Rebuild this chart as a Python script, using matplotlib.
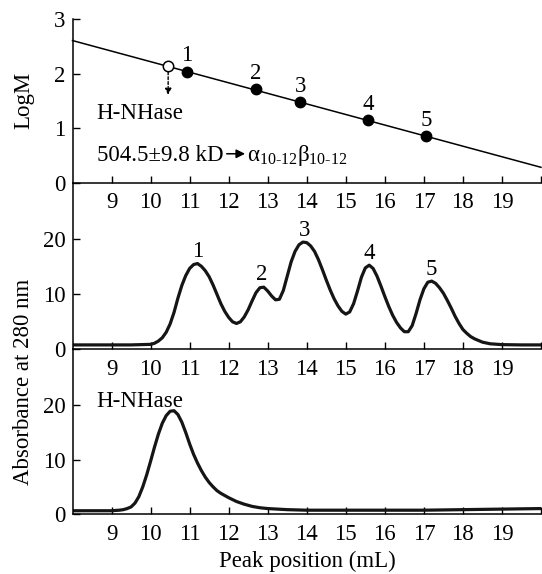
import numpy as np
import matplotlib
matplotlib.use("Agg")
import matplotlib.pyplot as plt

plt.rcParams['font.family'] = ['Liberation Serif', 'DejaVu Serif']
plt.rcParams['mathtext.fontset'] = 'custom'
plt.rcParams['mathtext.rm'] = 'Liberation Serif'
plt.rcParams['mathtext.it'] = 'Liberation Serif:italic'
plt.rcParams['mathtext.bf'] = 'Liberation Serif:bold'

# calibration standards (elution volume, log of molecular mass)
std_volume = [10.93, 12.70, 13.83, 15.58, 17.05]
std_logm = [2.03, 1.71, 1.47, 1.14, 0.85]
std_names = ['1', '2', '3', '4', '5']
sample_volume = 10.45
sample_logm = 2.13

# standards chromatogram
std_x = [8.0, 8.5, 9.0, 9.5, 10.0, 10.1, 10.2, 10.3, 10.4, 10.5, 10.6, 10.7, 10.8, 10.9,
         11.0, 11.1, 11.2, 11.3, 11.4, 11.5, 11.6, 11.7, 11.8, 11.9,
         12.0, 12.1, 12.2, 12.3, 12.4, 12.5, 12.6, 12.7, 12.8, 12.9,
         13.0, 13.1, 13.2, 13.3, 13.4, 13.5, 13.6, 13.7, 13.8, 13.9,
         14.0, 14.1, 14.2, 14.3, 14.4, 14.5, 14.6, 14.7, 14.8, 14.9,
         15.0, 15.1, 15.2, 15.3, 15.4, 15.5, 15.6, 15.7, 15.8, 15.9,
         16.0, 16.1, 16.2, 16.3, 16.4, 16.5, 16.6, 16.7, 16.8, 16.9,
         17.0, 17.1, 17.2, 17.3, 17.4, 17.5, 17.6, 17.7, 17.8, 17.9,
         18.0, 18.1, 18.2, 18.3, 18.4, 18.5, 18.7, 19.0, 19.5, 20.0]
std_abs = [0.8, 0.8, 0.8, 0.8, 0.9, 1.1, 1.5, 2.1, 3.1, 4.6, 6.7, 9.3, 11.6, 13.4,
           14.7, 15.4, 15.6, 15.1, 14.3, 13.2, 11.7, 10.0, 8.3, 6.9,
           5.8, 5.0, 4.7, 5.0, 5.9, 7.2, 8.8, 10.3, 11.2, 11.3,
           10.6, 9.7, 9.0, 9.1, 10.7, 13.3, 15.9, 17.8, 19.0, 19.5,
           19.4, 18.8, 17.8, 16.3, 14.5, 12.6, 10.8, 9.2, 7.9, 6.9,
           6.4, 6.8, 8.3, 10.6, 13.1, 14.8, 15.3, 14.7, 13.3, 11.5,
           9.6, 7.8, 6.2, 4.9, 3.9, 3.2, 3.2, 4.3, 6.5, 9.0,
           11.0, 12.2, 12.4, 12.0, 11.2, 10.2, 8.9, 7.5, 6.0, 4.7,
           3.6, 2.9, 2.3, 1.9, 1.6, 1.3, 1.0, 0.85, 0.8, 0.8]
peak_x = [11.2, 12.85, 13.95, 15.6, 17.2]
peak_y = [15.6, 11.4, 19.5, 15.3, 12.4]

# H-NHase chromatogram
hn_x = [8.0, 8.5, 9.0, 9.2, 9.3, 9.4, 9.5, 9.6, 9.7, 9.8, 9.9,
        10.0, 10.1, 10.2, 10.3, 10.4, 10.5, 10.6, 10.7, 10.8, 10.9,
        11.0, 11.1, 11.2, 11.3, 11.4, 11.5, 11.6, 11.7, 11.8, 11.9,
        12.0, 12.2, 12.4, 12.6, 12.8, 13.0, 13.5, 14.0, 15.0, 16.0, 17.0,
        18.0, 19.0, 20.0]
hn_abs = [0.6, 0.6, 0.6, 0.7, 0.8, 1.0, 1.3, 2.0, 3.2, 5.0, 7.2,
          9.7, 12.3, 14.7, 16.7, 18.1, 18.9, 19.0, 18.3, 16.9, 15.0,
          12.9, 11.0, 9.4, 8.0, 6.8, 5.8, 5.0, 4.3, 3.8, 3.4,
          3.0, 2.3, 1.8, 1.4, 1.15, 1.0, 0.8, 0.7, 0.7, 0.7, 0.7,
          0.8, 0.9, 1.0]

xticks = list(range(9, 21))
xticklabels = [str(t) for t in range(9, 20)] + ['']

W, H = 542, 574
fig = plt.figure(figsize=(W / 100, H / 100), dpi=100)

def panel(top, bottom):
    ax = fig.add_axes([72.5 / W, 1 - bottom / H, (541 - 72.5) / W, (bottom - top) / H])
    for s in ('top', 'right'):
        ax.spines[s].set_visible(False)
    for s in ('left', 'bottom'):
        ax.spines[s].set_linewidth(1.1)
    ax.set_xlim(8, 20)
    ax.set_xticks(xticks)
    ax.set_xticklabels(xticklabels)
    ax.tick_params(direction='in', length=5, width=1.0, labelsize=16.5, pad=5)
    ax.tick_params(axis='x', pad=7)
    ax.patch.set_alpha(0)
    return ax

# calibration curve
ax1 = panel(19, 182.7)
ax1.set_ylim(0, 3)
ax1.set_yticks([0, 1, 2, 3])
slope, icpt = np.polyfit(std_volume, std_logm, 1)
xl = np.array([8, 20])
ax1.plot(xl, icpt + slope * xl, color='black', lw=1.1, clip_on=False)
ax1.plot(std_volume, std_logm, 'o', color='black', ms=7.5, zorder=3)
ax1.plot([sample_volume], [sample_logm], 'o', mfc='white', mec='black', mew=1.1, ms=7.5, zorder=3)
for n, xv, yv in zip(std_names, std_volume, std_logm):
    ax1.annotate(n, (xv, yv), xytext=(0, 4), textcoords='offset points',
                 ha='center', va='bottom', fontsize=16.5)
ax1.annotate('', xy=(sample_volume, 1.61), xytext=(sample_volume, sample_logm - 0.1),
             arrowprops=dict(arrowstyle='-|>', lw=1.0, ls=(0, (2, 1.5)), color='black',
                             mutation_scale=9, shrinkA=0, shrinkB=0))
ax1.text(8.62, 1.27, 'H-NHase', fontsize=16.5, va='center', ha='left')

# mass estimate -> subunit composition
ax1.text(8.62, 0.39, '504.5±9.8 kD', fontsize=16.5, va='baseline', ha='left')
ax1.annotate('', xy=(12.42, 0.53), xytext=(11.95, 0.53),
             arrowprops=dict(arrowstyle='-|>', lw=1.1, color='black',
                             mutation_scale=13, shrinkA=0, shrinkB=0))
ax1.text(12.46, 0.39, r'$\mathrm{\alpha_{10\text{-}12}\beta_{10\text{-}12}}$',
         fontsize=16.5, va='baseline', ha='left')

# standards
ax2 = panel(182.7, 349.3)
ax2.set_ylim(0, 30.3)
ax2.set_yticks([0, 10, 20])
ax2.plot(std_x, std_abs, color='#151515', lw=2.3, solid_joinstyle='round')
for n, xv, yv in zip(std_names, peak_x, peak_y):
    ax2.annotate(n, (xv, yv), xytext=(0, 1), textcoords='offset points',
                 ha='center', va='bottom', fontsize=16.5)

# H-NHase
ax3 = panel(349.3, 514)
ax3.set_ylim(0, 30.3)
ax3.set_yticks([0, 10, 20])
ax3.plot(hn_x, hn_abs, color='#151515', lw=2.3, solid_joinstyle='round')
ax3.text(8.62, 20.7, 'H-NHase', fontsize=16.5, va='center', ha='left')

fig.text(24 / W, 1 - 100 / H, 'LogM', rotation=90, fontsize=16.5, ha='center', va='center')
fig.text(24 / W, 1 - 382 / H, 'Absorbance at 280 nm', rotation=90, fontsize=16.5,
         ha='center', va='center')
fig.text(307 / W, 1 - 561 / H, 'Peak position (mL)', fontsize=16.5, ha='center', va='center')

fig.savefig('out.png', dpi=100)
